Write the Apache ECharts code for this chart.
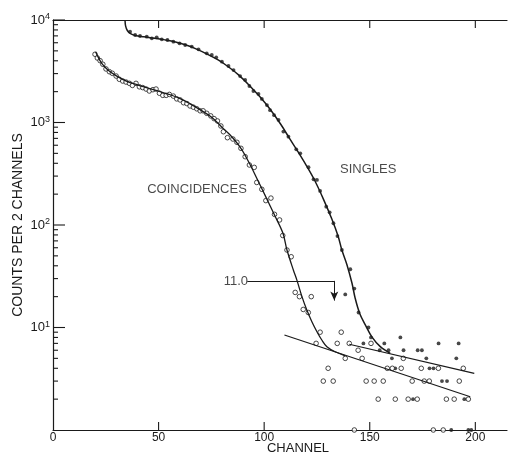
<!DOCTYPE html>
<html>
<head>
<meta charset="utf-8">
<script src="https://cdn.jsdelivr.net/npm/echarts@6/dist/echarts.min.js"></script>
<style>
html,body{margin:0;padding:0;background:#fff;}
#chart{width:508px;height:455px;}
</style>
</head>
<body>
<div id="chart"></div>
<script>
// ---------------- data ----------------
const xTicks = [0, 50, 100, 150, 200];
const xTopTicks = [50, 100, 150, 200];
const yDecades = [10, 100, 1000, 10000];
const yMinorTicks = [2,3,4,5,6,7,8,9, 20,30,40,50,60,70,80,90, 200,300,400,500,600,700,800,900, 2000,3000,4000,5000,6000,7000,8000,9000];

// SINGLES: measured points (filled dots) [channel, counts per 2 channels]
const singlesPoints = [
  [36.5,7700],[38.9,7140],[41.2,6980],[44.4,6870],[46.8,6620],[49.1,6780],[51.5,6480],[54.2,6380],
  [57.0,6140],[59.9,5920],[62.6,5700],[65.7,5500],[68.9,5180],[72.8,4730],[75.2,4560],[77.3,4320],
  [80.0,3920],[83.1,3560],[85.5,3250],[88.6,2840],[91.0,2600],[93.0,2270],[94.9,2030],[97.3,1900],
  [98.9,1700],[101.3,1480],[102.8,1320],[104.7,1180],[106.8,1060],[109.1,815],[111.5,728],
  [115.2,548],[117.1,500],[121.0,366],[123.4,279],[125.0,275],[126.5,215],[129.4,151],[131.0,133],
  [132.8,104],[134.7,78],[136.8,57],[140.8,37],[142.7,24],[144.7,14],[138.4,21],
  [147.0,7],[149.4,10],[150.6,8],[154.7,6],[156.9,7],[158.9,6],[160.5,5],[162.1,4],[164.5,8],
  [166.0,6],[170.5,2],[172.7,6],[174.7,6],[176.8,5],[178.3,4],[180.2,4],[182.6,7],[184.2,3],
  [186.6,3],[188.6,1],[191.0,5],[192.1,7],[194.8,2],[196.7,1],[198.1,1]
];

// COINCIDENCES: measured points (open circles)
const coincPoints = [
  [19.9,4630],[21.0,4260],[22.3,4010],[23.6,3700],[25.1,3330],[26.7,3130],[28.1,3020],[29.9,2840],
  [31.4,2640],[33.0,2540],[34.6,2480],[36.2,2410],[37.6,2300],[39.3,2410],[40.9,2230],[42.5,2190],
  [44.1,2120],[45.6,2030],[47.3,2090],[48.8,2120],[50.4,1930],[52.0,1840],[53.6,1840],[55.1,1880],
  [57.0,1810],[58.6,1700],[60.2,1660],[61.8,1560],[63.4,1530],[64.9,1450],[66.5,1410],[68.1,1360],
  [69.7,1300],[71.1,1300],[72.8,1230],[74.7,1160],[76.3,1090],[77.9,1035],[79.5,925],
  [80.7,813],[82.6,711],[85.2,690],[87.1,641],[89.0,560],[91.0,464],[93.0,385],[95.3,365],
  [96.5,260],[98.9,223],[100.8,173],[103.2,183],[104.9,127],[107.3,112],[108.8,79],[110.8,57],
  [112.8,49],[114.7,22],[116.7,20],[122.3,20],[118.5,15],[120.9,14],[126.5,9],[136.5,9],
  [124.6,7],[134.6,7],[140.3,7],[150.6,7],[144.5,6],[138.4,5],[146.4,5],[165.9,5],
  [130.3,4],[158.3,4],[160.7,4],[164.9,4],[174.4,4],[182.5,4],[194.3,4],
  [128.0,3],[132.7,3],[148.3,3],[152.1,3],[156.4,3],[170.1,3],[175.8,3],[178.2,3],[192.4,3],
  [154.0,2],[162.1,2],[168.2,2],[172.5,2],[186.3,2],[190.0,2],[196.7,2],
  [142.7,1],[180.1,1],[184.8,1]
];

// fitted curves (solid lines)
const singlesCurve = [
  [34.1,10000],[34.4,8700],[35.2,7900],[36.5,7400],[39,7050],[43,6850],[48,6650],[53,6400],
  [58,6100],[63,5700],[68,5200],[73,4650],[78,4100],[83,3500],[88,2900],[93,2300],[98,1780],
  [103,1330],[108,950],[112,700],[116,520],[120,380],[124,270],[128,180],[132,115],[135,78],
  [136.8,57],[139.2,41],[141.6,27],[143.1,19.3],[145.2,13.8],[147.9,10.6],[151,8.1],[155,6.5],[159.7,5.6]
];
const coincCurve = [
  [20.2,4900],[21,4500],[23,3800],[26,3250],[30,2850],[35,2520],[40,2330],[45,2170],[50,2020],
  [55,1880],[60,1720],[65,1520],[70,1320],[75,1130],[80,900],[83.9,755],[89,560],[93,400],
  [96.5,286],[100.9,186],[104.9,125],[108.9,83],[110.8,57],[113.9,36],[115.5,29],[117.9,20],
  [120.2,14.8],[122.6,11.4],[125,9.1],[127.3,7.55],[129.7,6.5],[133.6,5.8],[138.4,5.3]
];
const upperLine = [[140.3,6.86],[199.5,3.57]];
const lowerLine = [[109.6,8.45],[197.6,2.11]];

// annotations
const arrowValue = 133.2;
const arrowLevel = 28.5;
const arrowTip = 18.3;
const arrowStart = 92.0;
const texts = [
  {name:'SINGLES', value:[149.3,352]},
  {name:'COINCIDENCES', value:[68.2,223]},
  {name:'11.0', value:[86.6,28.3]}
];

// ---------------- chart ----------------
const INK = '#1a1a1a';
const FONT = 'Liberation Sans';
const X_MIN = 0, X_MAX = 215, Y_MIN = 1, Y_MAX = 10000;
const chart = echarts.init(document.getElementById('chart'), null, {renderer:'canvas'});

// tick marks drawn through the axes' own scales: [x, y, dx, dy]
function tickSeries(items){
  return {
    type:'custom', data:items, silent:true, clip:false, z:5,
    renderItem:function(params, api){
      const p = api.coord([api.value(0), api.value(1)]);
      return {type:'line', shape:{x1:p[0], y1:p[1], x2:p[0]+api.value(2), y2:p[1]+api.value(3)},
              style:{stroke:INK, lineWidth:1.1}};
    }
  };
}

chart.setOption({
  animation:false,
  backgroundColor:'#fff',
  grid:{left:53, right:1, top:20, bottom:25, outerBoundsMode:'none', containLabel:false},
  xAxis:[{
    type:'value', min:X_MIN, max:X_MAX, interval:50,
    name:'CHANNEL', nameLocation:'middle', nameGap:12, nameMoveOverlap:false,
    nameTextStyle:{fontFamily:FONT, fontSize:13, color:INK, padding:[0,0,0,36]},
    axisLine:{show:true, onZero:false, lineStyle:{color:INK, width:1.2}},
    axisTick:{show:false},
    axisLabel:{margin:2, fontFamily:FONT, fontSize:12, color:INK, customValues:xTicks},
    splitLine:{show:false}
  },{
    type:'value', position:'top', min:X_MIN, max:X_MAX, interval:50,
    axisLine:{show:true, onZero:false, lineStyle:{color:INK, width:1.2}},
    axisTick:{show:false},
    axisLabel:{show:false},
    splitLine:{show:false}
  }],
  yAxis:{
    type:'log', logBase:10, min:Y_MIN, max:Y_MAX,
    name:'COUNTS PER 2 CHANNELS', nameLocation:'middle', nameGap:28, nameRotate:90, nameMoveOverlap:false,
    nameTextStyle:{fontFamily:FONT, fontSize:14, color:INK},
    axisLine:{show:true, lineStyle:{color:INK, width:1.2}},
    axisTick:{show:false},
    axisLabel:{
      margin:3,
      formatter:function(v){
        const e = Math.round(Math.log10(v));
        if (yDecades.indexOf(Math.pow(10,e)) < 0) return '';
        return '{b|10}{s|' + e + '}';
      },
      rich:{
        b:{fontFamily:FONT, fontSize:13, color:INK, lineHeight:15},
        s:{fontFamily:FONT, fontSize:9, color:INK, verticalAlign:'top', lineHeight:9}
      }
    },
    splitLine:{show:false}
  },
  series:[
    tickSeries(yMinorTicks.map(v=>[X_MIN, v, 5, 0])),
    tickSeries(yDecades.map(v=>[X_MIN, v, 12, 0])),
    tickSeries(xTicks.filter(v=>v>X_MIN).map(v=>[v, Y_MIN, 0, -8])),
    tickSeries(xTopTicks.map(v=>[v, Y_MAX, 0, 8])),
    {type:'line', data:singlesCurve, smooth:0.35, symbol:'none', lineStyle:{color:INK, width:1.5}, silent:true},
    {type:'line', data:coincCurve, smooth:0.35, symbol:'none', lineStyle:{color:INK, width:1.3}, silent:true},
    {type:'line', data:upperLine, symbol:'none', lineStyle:{color:INK, width:1.2}, silent:true},
    {type:'line', data:lowerLine, symbol:'none', lineStyle:{color:INK, width:1.2}, silent:true},
    {type:'scatter', data:singlesPoints, symbol:'circle', symbolSize:3.8,
      itemStyle:{color:INK}, silent:true, clip:false},
    {type:'scatter', data:coincPoints, symbol:'circle', symbolSize:4.6,
      itemStyle:{color:'#fff', borderColor:INK, borderWidth:1}, silent:true, clip:false},
    {
      type:'scatter', data:texts, symbolSize:0, silent:true,
      label:{show:true, position:'inside', formatter:'{b}', fontFamily:FONT, fontSize:13, color:INK},
      markLine:{
        silent:true, symbolSize:[6,9], precision:4,
        lineStyle:{type:'solid', color:INK, width:1},
        label:{show:false},
        data:[
          [{coord:[arrowStart, arrowLevel], symbol:'none'},{coord:[arrowValue, arrowLevel], symbol:'none'}],
          [{coord:[arrowValue, arrowLevel], symbol:'none'},{coord:[arrowValue, arrowTip], symbol:'arrow'}]
        ]
      }
    }
  ]
});
</script>
</body>
</html>
